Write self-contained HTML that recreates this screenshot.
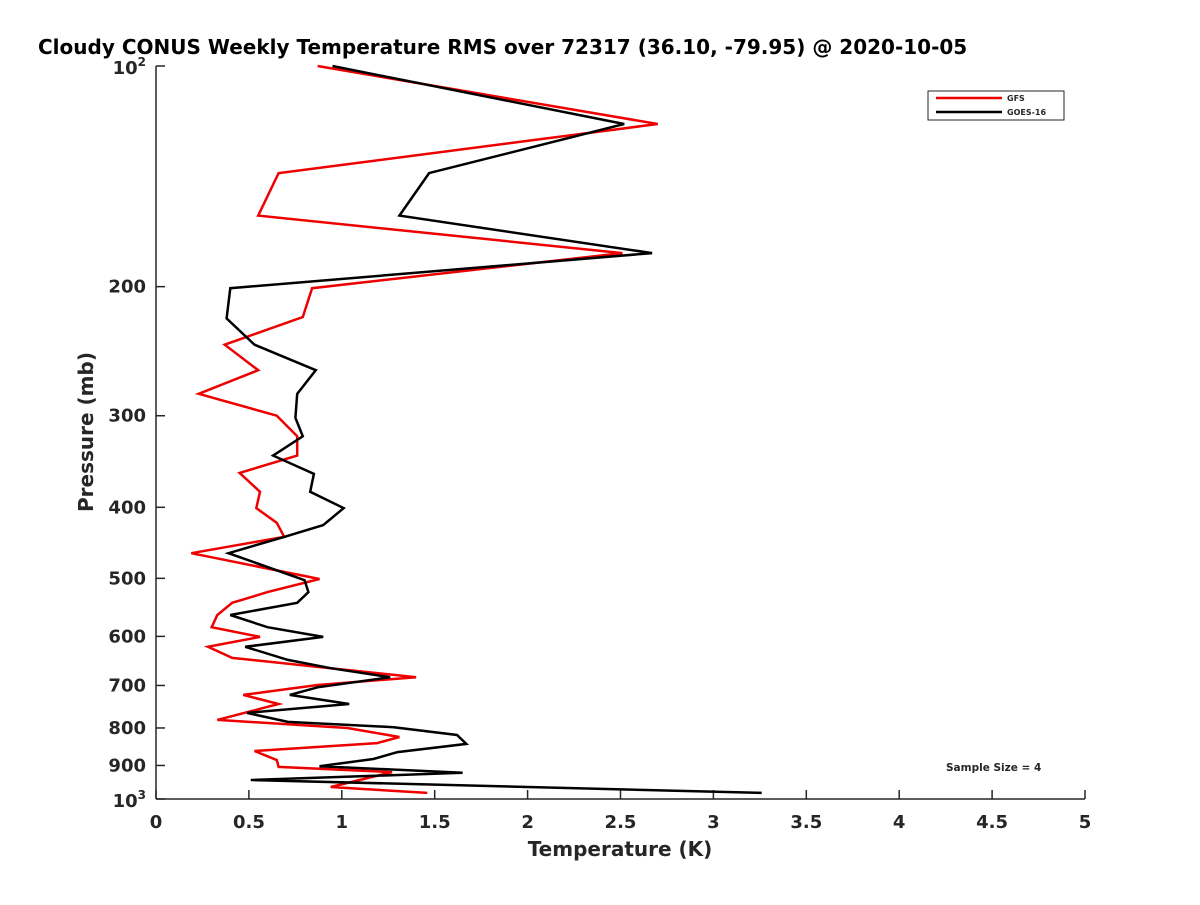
<!DOCTYPE html>
<html><head><meta charset="utf-8"><style>
html,body{margin:0;padding:0;background:#fff;overflow:hidden;}
svg text{font-family:"DejaVu Sans","Liberation Sans",sans-serif;font-weight:bold;fill:#262626;}
</style></head><body>
<svg id="chart" width="1200" height="900" xmlns="http://www.w3.org/2000/svg">
<rect width="1200" height="900" fill="#fff"/>
<text x="38" y="54" font-size="20" style="fill:#000">Cloudy CONUS Weekly Temperature RMS over 72317 (36.10, -79.95) @ 2020-10-05</text>
<g id="axes"></g>
<g id="series"></g>
<g>
<rect x="928" y="91" width="136" height="29" fill="#fff" stroke="#262626" stroke-width="1"/>
<line x1="936" y1="98" x2="1002" y2="98" stroke="#e00" stroke-width="2.5"/>
<text x="1007" y="101" font-size="8">GFS</text>
<line x1="936" y1="112" x2="1002" y2="112" stroke="#000" stroke-width="2.5"/>
<text x="1007" y="115" font-size="8">GOES-16</text>
</g>
<text x="946" y="771" font-size="10.5">Sample Size = 4</text>
<text x="620" y="856" font-size="20" text-anchor="middle">Temperature (K)</text>
<text transform="translate(93,432) rotate(-90)" font-size="20" text-anchor="middle">Pressure (mb)</text>
</svg>
<script>
const xTicks=[0,0.5,1,1.5,2,2.5,3,3.5,4,4.5,5];
const xTickLabels=["0","0.5","1","1.5","2","2.5","3","3.5","4","4.5","5"];
const yTicks=[200,300,400,500,600,700,800,900];
const gfsTemp=[0.87,2.70,0.66,0.55,2.51,0.84,0.79,0.37,0.55,0.23,0.65,0.76,0.76,0.45,0.56,0.54,0.65,0.69,0.19,0.88,0.60,0.41,0.33,0.30,0.56,0.28,0.41,0.94,1.40,0.87,0.47,0.66,0.33,1.03,1.31,1.19,0.53,0.65,0.66,1.27,0.94,1.46];
const gfsPres=[100,120,140,160,180,201,220,240,260,280,300,320,340,359,381,401,420,439,462,501,522,540,561,583,601,620,642,663,682,699,721,742,780,800,823,839,860,885,904,919,963,981];
const goesTemp=[0.95,2.52,1.47,1.31,2.67,0.40,0.38,0.53,0.86,0.76,0.75,0.79,0.63,0.85,0.83,1.01,0.90,0.69,0.39,0.80,0.82,0.76,0.40,0.60,0.90,0.48,0.71,0.94,1.26,0.87,0.72,1.04,0.49,0.71,1.28,1.62,1.67,1.30,1.17,0.88,1.65,0.51,3.26];
const goesPres=[100,120,140,160,180,201,221,240,260,280,302,320,340,360,381,401,423,439,462,503,522,540,561,583,601,620,646,663,682,704,721,742,763,785,798,818,841,863,882,902,921,942,981];

const X0=156,X1=1085,Y0=66,Y1=799;
function xs(t){return X0+(t-0)/(5-0)*(X1-X0);}
function ys(p){return Y0+Math.log10(p/100)*(Y1-Y0);}
const NS="http://www.w3.org/2000/svg";
const axes=document.getElementById('axes');
function mk(tag,attrs,parent){const e=document.createElementNS(NS,tag);for(const k in attrs)e.setAttribute(k,attrs[k]);parent.appendChild(e);return e;}
let a=mk('line',{x1:X0,y1:Y0,x2:X0,y2:Y1,stroke:'#262626','stroke-width':1.5},axes);


a=mk('line',{x1:X0,y1:Y1,x2:X1,y2:Y1,stroke:'#262626','stroke-width':1.5},axes);


xTicks.forEach((t,i)=>{
  const x=xs(t);
  const l=mk('line',{x1:x,y1:Y1,x2:x,y2:Y1-9,stroke:'#262626','stroke-width':1.5},axes);
  
  
  const tx=mk('text',{x:x,y:Y1+29,'font-size':18,'text-anchor':'middle'},axes);
  tx.textContent=xTickLabels[i];
  
  
});
[100].concat(yTicks).concat([1000]).forEach(p=>{
  const y=ys(p);
  const l=mk('line',{x1:X0,y1:y,x2:X0+9,y2:y,stroke:'#262626','stroke-width':1.5},axes);
  
  
});
yTicks.forEach(p=>{
  const tx=mk('text',{x:X0-10,y:ys(p)+6,'font-size':18,'text-anchor':'end'},axes);
  tx.textContent=String(p);
  
  
});
[[100,'2'],[1000,'3']].forEach(([p,e])=>{
  const tx=mk('text',{x:X0-10,y:ys(p)+8,'font-size':18,'text-anchor':'end'},axes);
  tx.textContent='10';
  
  
  const ts=mk('tspan',{dy:-8,'font-size':12},tx);
  ts.textContent=e;
});
const series=document.getElementById('series');
function draw(T,P,color,name){
  const pts=T.map((t,i)=>xs(t).toFixed(1)+','+ys(P[i]).toFixed(1)).join(' ');
  const pl=mk('polyline',{points:pts,fill:'none',stroke:color,'stroke-width':2.5,'stroke-linejoin':'miter'},series);
  
  
}
draw(gfsTemp,gfsPres,'#e00','gfs-line');
draw(goesTemp,goesPres,'#000','goes16-line');
</script>
</body></html>
